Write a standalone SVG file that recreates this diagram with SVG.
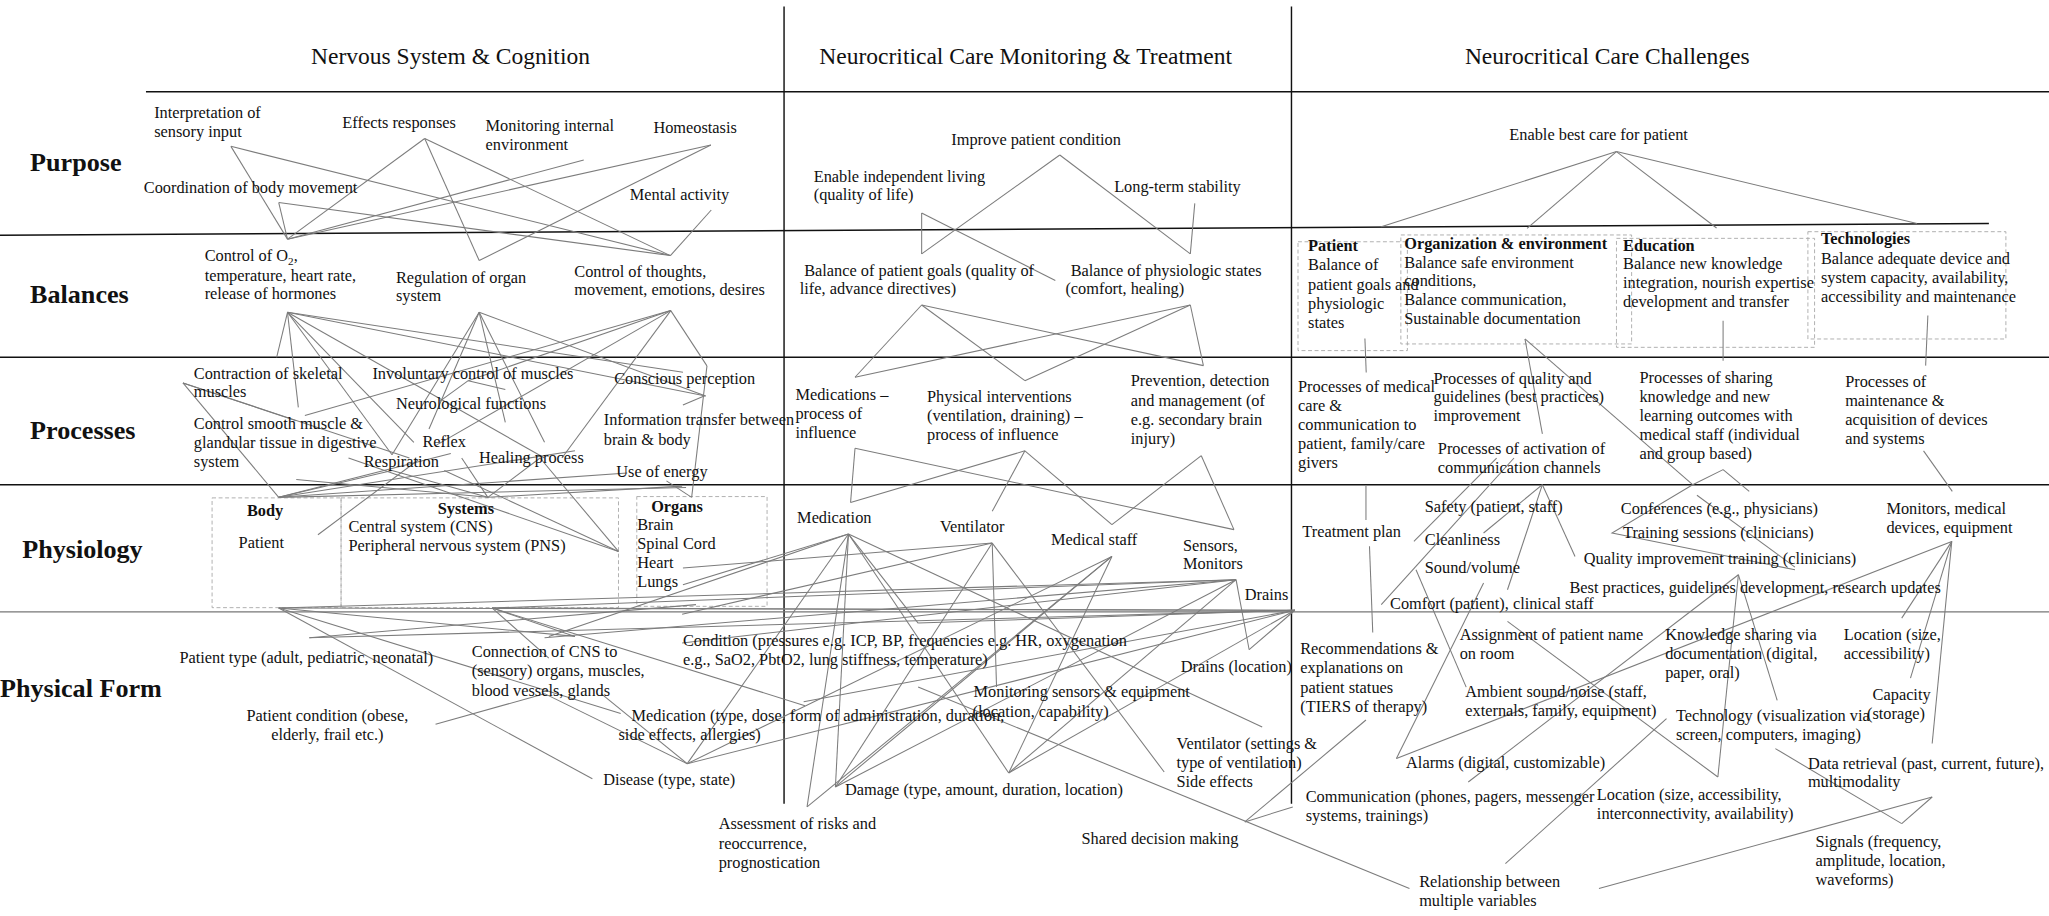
<svg xmlns="http://www.w3.org/2000/svg" width="2049" height="916" viewBox="0 0 2049 916">
<style>
text{font-family:"Liberation Serif","Times New Roman",serif;fill:#111}
.t{font-size:12.5px}
.b{font-size:12.5px;font-weight:bold}
.h{font-size:18px}
.r{font-size:20px;font-weight:bold}
.c line,.c polyline{stroke:#7c7c7c;stroke-width:0.8;fill:none}
.s{stroke:#111;stroke-width:1.1;fill:none}
.sg{stroke:#777;stroke-width:1;fill:none}
.d{stroke:#aaa;stroke-width:0.7;stroke-dasharray:3 2;fill:none}
</style>
<rect width="2049" height="916" fill="#fff"/>
<g transform="scale(1.30676)">
<g id="grid">
<line class="s" x1="600" y1="5" x2="600" y2="615"/>
<line class="s" x1="988.3" y1="5" x2="988.3" y2="615"/>
<line class="s" x1="111.7" y1="70.2" x2="1568" y2="70.2"/>
<line class="s" x1="0" y1="180" x2="1522" y2="171"/>
<line class="s" x1="0" y1="273.4" x2="1568" y2="273.4"/>
<line class="s" x1="0" y1="370.9" x2="1568" y2="370.9"/>
<line class="sg" x1="0" y1="468.2" x2="1568" y2="468.2"/>
</g>
<g id="headers">
<text class="h" x="238" y="49">Nervous System &amp; Cognition</text>
<text class="h" x="627" y="49">Neurocritical Care Monitoring &amp; Treatment</text>
<text class="h" x="1121" y="49">Neurocritical Care Challenges</text>
<text class="r" x="23" y="131">Purpose</text>
<text class="r" x="23" y="232">Balances</text>
<text class="r" x="23" y="336">Processes</text>
<text class="r" x="17" y="427">Physiology</text>
<text class="r" x="0" y="533">Physical Form</text>
</g>
<g id="boxes">
<rect class="d" x="162.3" y="381" width="98.7" height="84"/>
<rect class="d" x="261" y="381" width="212.3" height="84"/>
<rect class="d" x="487.3" y="380" width="99.7" height="84"/>
<rect class="d" x="993.3" y="185" width="83.7" height="83.3"/>
<rect class="d" x="1072" y="179.8" width="176.6" height="83.4"/>
<rect class="d" x="1237" y="182.4" width="151.6" height="83.4"/>
<rect class="d" x="1383.5" y="177.3" width="151.5" height="82.1"/>
</g>
<g id="connectors" class="c">
<!-- col1 purpose->balances -->
<line x1="176.7" y1="112" x2="220" y2="183"/>
<line x1="176.7" y1="112" x2="513" y2="195.6"/>
<line x1="325" y1="106" x2="220" y2="183"/>
<line x1="325" y1="106" x2="366.7" y2="199.4"/>
<line x1="325" y1="106" x2="513" y2="195.6"/>
<line x1="446.7" y1="122.4" x2="220" y2="183"/>
<line x1="544" y1="111" x2="220" y2="183"/>
<line x1="544" y1="111" x2="366.7" y2="199.4"/>
<line x1="213.3" y1="155" x2="220" y2="183"/>
<line x1="213.3" y1="155" x2="513" y2="195.6"/>
<line x1="544.3" y1="160.7" x2="513" y2="195.6"/>
<!-- col1 balances->processes -->
<line x1="220" y1="239" x2="211.7" y2="273.4"/>
<line x1="220" y1="239" x2="228.3" y2="311.7"/>
<line x1="220" y1="239" x2="316.7" y2="338.5"/>
<line x1="220" y1="239" x2="416.7" y2="350.5"/>
<line x1="220" y1="239" x2="522.7" y2="284.9"/>
<line x1="220" y1="239" x2="540" y2="303"/>
<line x1="220" y1="239" x2="300" y2="348"/>
<line x1="366.7" y1="239" x2="328.3" y2="328.3"/>
<line x1="366.7" y1="239" x2="386.7" y2="323.2"/>
<line x1="366.7" y1="239" x2="416.7" y2="338.5"/>
<line x1="366.7" y1="239" x2="540" y2="303"/>
<line x1="366.7" y1="239" x2="300" y2="348"/>
<line x1="513.3" y1="237.7" x2="333.3" y2="341"/>
<line x1="513.3" y1="237.7" x2="541" y2="280"/>
<line x1="513.3" y1="237.7" x2="430" y2="350.5"/>
<line x1="513.3" y1="237.7" x2="233.3" y2="318"/>
<line x1="513.3" y1="237.7" x2="358.3" y2="291.3"/>
<line x1="140" y1="293" x2="313.3" y2="350.5"/>
<line x1="140" y1="293" x2="226.7" y2="322"/>
<line x1="358.3" y1="291.3" x2="336.7" y2="307"/>
<line x1="358.3" y1="291.3" x2="386.7" y2="298"/>
<line x1="539.3" y1="302.8" x2="522.6" y2="310"/>
<!-- col1 processes->physiology -->
<line x1="140" y1="293" x2="213.3" y2="380.6"/>
<line x1="213.3" y1="380.6" x2="345" y2="347"/>
<line x1="213.3" y1="380.6" x2="440" y2="345"/>
<line x1="213.3" y1="380.6" x2="480" y2="362"/>
<line x1="213.3" y1="380.6" x2="525" y2="373"/>
<line x1="213.3" y1="380.6" x2="300" y2="360"/>
<line x1="373.3" y1="380.6" x2="226.7" y2="367"/>
<line x1="373.3" y1="380.6" x2="353.3" y2="350.5"/>
<line x1="373.3" y1="380.6" x2="413.3" y2="350.5"/>
<line x1="373.3" y1="380.6" x2="522" y2="372"/>
<line x1="373.3" y1="380.6" x2="300" y2="360"/>
<line x1="473.3" y1="422" x2="266.7" y2="350.5"/>
<line x1="473.3" y1="422" x2="340" y2="360"/>
<line x1="473.3" y1="422" x2="413.3" y2="350.5"/>
<line x1="243.3" y1="409.2" x2="320" y2="352"/>
<line x1="541" y1="280" x2="529.3" y2="380.6"/>
<line x1="529.3" y1="380.6" x2="510" y2="368"/>
<!-- col1/2 physiology->physical form -->
<line x1="213.3" y1="465.3" x2="453.3" y2="596"/>
<line x1="213.3" y1="465.3" x2="440" y2="487"/>
<line x1="213.3" y1="465.3" x2="475" y2="546"/>
<line x1="213.3" y1="465.3" x2="945.9" y2="443.6"/>
<line x1="213.3" y1="465.3" x2="990.9" y2="467"/>
<line x1="376.7" y1="465.3" x2="420" y2="503.6"/>
<line x1="376.7" y1="465.3" x2="440" y2="487"/>
<line x1="376.7" y1="465.3" x2="616" y2="540"/>
<line x1="376.7" y1="465.3" x2="945.9" y2="443.6"/>
<line x1="376.7" y1="465.3" x2="990.9" y2="467"/>
<line x1="236.7" y1="488" x2="532.6" y2="462.7"/>
<line x1="236.7" y1="488" x2="990.9" y2="467"/>
<line x1="333.3" y1="554.3" x2="416.7" y2="530.8"/>
<line x1="416.7" y1="530.8" x2="525.9" y2="584.4"/>
<line x1="460" y1="530.8" x2="525.9" y2="584.4"/>
<line x1="649.3" y1="408.7" x2="617.6" y2="617.5"/>
<line x1="649.3" y1="408.7" x2="639.3" y2="602.2"/>
<line x1="649.3" y1="408.7" x2="525.9" y2="584.4"/>
<line x1="649.3" y1="408.7" x2="702.6" y2="476.8"/>
<line x1="649.3" y1="408.7" x2="771.9" y2="591.5"/>
<line x1="649.3" y1="408.7" x2="420" y2="487"/>
<line x1="649.3" y1="408.7" x2="965.9" y2="556.3"/>
<line x1="649.3" y1="408.7" x2="522.6" y2="447.4"/>
<line x1="759.3" y1="415.6" x2="762.6" y2="525.8"/>
<line x1="759.3" y1="415.6" x2="890.9" y2="590.8"/>
<line x1="759.3" y1="415.6" x2="639.3" y2="602.2"/>
<line x1="759.3" y1="415.6" x2="522" y2="470"/>
<line x1="759.3" y1="415.6" x2="522.6" y2="434.7"/>
<line x1="850.9" y1="425.8" x2="525.9" y2="584.4"/>
<line x1="850.9" y1="425.8" x2="617.6" y2="617.5"/>
<line x1="850.9" y1="425.8" x2="771.9" y2="591.5"/>
<line x1="850.9" y1="425.8" x2="639.3" y2="602.2"/>
<line x1="945.9" y1="443.6" x2="522" y2="492"/>
<line x1="945.9" y1="443.6" x2="771.9" y2="591.5"/>
<line x1="945.9" y1="443.6" x2="955.9" y2="497.2"/>
<line x1="945.9" y1="443.6" x2="639.3" y2="602.2"/>
<line x1="945.9" y1="443.6" x2="416.7" y2="488"/>
<line x1="990.9" y1="467" x2="955.9" y2="497.2"/>
<line x1="990.9" y1="467" x2="702.6" y2="476.8"/>
<line x1="990.9" y1="467" x2="525.9" y2="584.4"/>
<line x1="990.9" y1="467" x2="771.9" y2="591.5"/>
<line x1="990.9" y1="467" x2="615" y2="537"/>
<line x1="702.6" y1="525.7" x2="1078.6" y2="680"/>
<!-- col2 purpose->balances -->
<line x1="811" y1="118.6" x2="705.3" y2="194.3"/>
<line x1="811" y1="118.6" x2="910.9" y2="194.3"/>
<line x1="705.3" y1="163" x2="705.3" y2="194.3"/>
<line x1="705.3" y1="163" x2="807.6" y2="214.7"/>
<line x1="914.3" y1="155.6" x2="910.9" y2="194.3"/>
<!-- col2 balances->processes -->
<line x1="705.3" y1="233.4" x2="654.3" y2="288.7"/>
<line x1="705.3" y1="233.4" x2="784.3" y2="291.3"/>
<line x1="705.3" y1="233.4" x2="920.9" y2="279.8"/>
<line x1="910.9" y1="233.4" x2="654.3" y2="288.7"/>
<line x1="910.9" y1="233.4" x2="784.3" y2="291.3"/>
<line x1="910.9" y1="233.4" x2="920.9" y2="279.8"/>
<!-- col2 processes->physiology -->
<line x1="654.3" y1="343" x2="650.9" y2="384.5"/>
<line x1="784.3" y1="345" x2="650.9" y2="384.5"/>
<line x1="784.3" y1="345" x2="759.3" y2="391.3"/>
<line x1="784.3" y1="345" x2="850.9" y2="401.5"/>
<line x1="919.3" y1="348.7" x2="850.9" y2="401.5"/>
<line x1="919.3" y1="348.7" x2="944.3" y2="405.3"/>
<line x1="654.3" y1="343" x2="944.3" y2="405.3"/>
<!-- col3 purpose->balances -->
<line x1="1237" y1="116" x2="1057" y2="173.5"/>
<line x1="1237" y1="116" x2="1168.6" y2="174.7"/>
<line x1="1237" y1="116" x2="1313.6" y2="174.5"/>
<line x1="1237" y1="116" x2="1467" y2="171"/>
<!-- col3 balances->processes -->
<line x1="1044.5" y1="259" x2="1045.5" y2="285"/>
<line x1="1167" y1="259.4" x2="1180.3" y2="332"/>
<line x1="1167" y1="259.4" x2="1295.3" y2="370.9"/>
<line x1="1318.6" y1="245.4" x2="1318.6" y2="276"/>
<line x1="1475.3" y1="241.5" x2="1473.6" y2="279.8"/>
<!-- col3 processes->physiology -->
<line x1="1045.3" y1="372" x2="1045.3" y2="398"/>
<line x1="1048" y1="418" x2="1050.5" y2="484"/>
<line x1="1145.3" y1="350.5" x2="1082" y2="414.3"/>
<line x1="1158.6" y1="350.5" x2="1057" y2="462.7"/>
<line x1="1180.3" y1="370.9" x2="1135.3" y2="407.9"/>
<line x1="1180.3" y1="370.9" x2="1153.6" y2="451.3"/>
<line x1="1180.3" y1="370.9" x2="1205.3" y2="425.8"/>
<line x1="1318.6" y1="359.4" x2="1338.6" y2="376"/>
<polyline points="1318.6,359.4 1295.3,370.9 1233.6,407.9 1373.6,436"/>
<line x1="1298.6" y1="379" x2="1373.6" y2="434"/>
<line x1="1472" y1="345" x2="1494" y2="376"/>
<!-- col3 physiology->physical -->
<line x1="1493.6" y1="414.3" x2="1455.3" y2="473"/>
<line x1="1493.6" y1="414.3" x2="1462" y2="519"/>
<line x1="1493.6" y1="414.3" x2="1478.6" y2="569"/>
<line x1="1493.6" y1="414.3" x2="1068.6" y2="580.5"/>
<line x1="1330.3" y1="439.8" x2="1123.6" y2="598.4"/>
<line x1="1330.3" y1="439.8" x2="1360" y2="536"/>
<line x1="1330.3" y1="439.8" x2="1314.6" y2="594.6"/>
<line x1="1153.6" y1="475.5" x2="1314.6" y2="594.6"/>
<line x1="1083.6" y1="436" x2="1122" y2="525.8"/>
<line x1="1135.3" y1="446.2" x2="1068.6" y2="580.5"/>
<line x1="1358.6" y1="572.9" x2="1455.3" y2="630.3"/>
<line x1="1455.3" y1="630.3" x2="1478.6" y2="609.9"/>
<line x1="1223.6" y1="680" x2="1478.6" y2="609.9"/>
<line x1="1152" y1="660.9" x2="1275.3" y2="550"/>
<line x1="1045.3" y1="551" x2="952.6" y2="629"/>
<line x1="989.3" y1="617.5" x2="952.6" y2="629"/>
</g>
<g id="n-purpose">
<text class="t" x="118" y="90.6">Interpretation of</text>
<text class="t" x="118" y="104.6">sensory input</text>
<text class="t" x="262" y="98">Effects responses</text>
<text class="t" x="371.6" y="100">Monitoring internal</text>
<text class="t" x="371.6" y="114.8">environment</text>
<text class="t" x="500" y="102">Homeostasis</text>
<text class="t" x="110" y="148">Coordination of body movement</text>
<text class="t" x="482" y="153">Mental activity</text>
<text class="t" x="728" y="111">Improve patient condition</text>
<text class="t" x="622.7" y="139">Enable independent living</text>
<text class="t" x="622.7" y="153">(quality of life)</text>
<text class="t" x="852.6" y="146.7">Long-term stability</text>
<text class="t" x="1155" y="107">Enable best care for patient</text>
</g>
<g id="n-balances">
<text class="t" x="156.6" y="200">Control of O<tspan font-size="8.5" dy="2.5">2</tspan><tspan dy="-2.5">,</tspan></text>
<text class="t" x="156.6" y="215">temperature, heart rate,</text>
<text class="t" x="156.6" y="229">release of hormones</text>
<text class="t" x="303" y="216.5">Regulation of organ</text>
<text class="t" x="303" y="230.5">system</text>
<text class="t" x="439.5" y="212">Control of thoughts,</text>
<text class="t" x="439.5" y="226">movement, emotions, desires</text>
<text class="t" x="615.4" y="211">Balance of patient goals (quality of</text>
<text class="t" x="612" y="225">life, advance directives)</text>
<text class="t" x="819.3" y="211">Balance of physiologic states</text>
<text class="t" x="815.3" y="225">(comfort, healing)</text>
<text class="b" x="1001" y="192">Patient</text>
<text class="t" x="1001" y="207">Balance of</text>
<text class="t" x="1001" y="222">patient goals and</text>
<text class="t" x="1001" y="236.5">physiologic</text>
<text class="t" x="1001" y="251">states</text>
<text class="b" x="1074.6" y="190.6">Organization &amp; environment</text>
<text class="t" x="1074.6" y="204.8">Balance safe environment</text>
<text class="t" x="1074.6" y="219">conditions,</text>
<text class="t" x="1074.6" y="233.5">Balance communication,</text>
<text class="t" x="1074.6" y="248">Sustainable documentation</text>
<text class="b" x="1242" y="191.8">Education</text>
<text class="t" x="1242" y="206">Balance new knowledge</text>
<text class="t" x="1242" y="220.6">integration, nourish expertise</text>
<text class="t" x="1242" y="235.2">development and transfer</text>
<text class="b" x="1393.5" y="186.7">Technologies</text>
<text class="t" x="1393.5" y="202">Balance adequate device and</text>
<text class="t" x="1393.5" y="216.5">system capacity, availability,</text>
<text class="t" x="1393.5" y="231">accessibility and maintenance</text>
</g>
<g id="n-processes">
<text class="t" x="148.3" y="290">Contraction of skeletal</text>
<text class="t" x="148.3" y="304">muscles</text>
<text class="t" x="285" y="290">Involuntary control of muscles</text>
<text class="t" x="303" y="313">Neurological functions</text>
<text class="t" x="148.3" y="328">Control smooth muscle &amp;</text>
<text class="t" x="148.3" y="342.5">glandular tissue in digestive</text>
<text class="t" x="148.3" y="357">system</text>
<text class="t" x="323.3" y="342.3">Reflex</text>
<text class="t" x="470" y="294">Conscious perception</text>
<text class="t" x="462" y="325.5">Information transfer between</text>
<text class="t" x="462" y="340.5">brain &amp; body</text>
<text class="t" x="278.3" y="357">Respiration</text>
<text class="t" x="366.6" y="354">Healing process</text>
<text class="t" x="471.6" y="365">Use of energy</text>
<text class="t" x="608.7" y="306">Medications –</text>
<text class="t" x="608.7" y="320.5">process of</text>
<text class="t" x="608.7" y="335">influence</text>
<text class="t" x="709.4" y="308">Physical interventions</text>
<text class="t" x="709.4" y="322.5">(ventilation, draining) –</text>
<text class="t" x="709.4" y="337">process of influence</text>
<text class="t" x="865.3" y="295.5">Prevention, detection</text>
<text class="t" x="865.3" y="310.5">and management (of</text>
<text class="t" x="865.3" y="325.5">e.g. secondary brain</text>
<text class="t" x="865.3" y="340">injury)</text>
<text class="t" x="993.3" y="300">Processes of medical</text>
<text class="t" x="993.3" y="314.5">care &amp;</text>
<text class="t" x="993.3" y="329">communication to</text>
<text class="t" x="993.3" y="343.5">patient, family/care</text>
<text class="t" x="993.3" y="358">givers</text>
<text class="t" x="1097" y="293.5">Processes of quality and</text>
<text class="t" x="1097" y="308">guidelines (best practices)</text>
<text class="t" x="1097" y="322.5">improvement</text>
<text class="t" x="1100.3" y="347.5">Processes of activation of</text>
<text class="t" x="1100.3" y="362">communication channels</text>
<text class="t" x="1254.6" y="293">Processes of sharing</text>
<text class="t" x="1254.6" y="307.5">knowledge and new</text>
<text class="t" x="1254.6" y="322">learning outcomes with</text>
<text class="t" x="1254.6" y="336.5">medical staff (individual</text>
<text class="t" x="1254.6" y="351">and group based)</text>
<text class="t" x="1412" y="296">Processes of</text>
<text class="t" x="1412" y="310.5">maintenance &amp;</text>
<text class="t" x="1412" y="325">acquisition of devices</text>
<text class="t" x="1412" y="339.5">and systems</text>
</g>
<g id="n-physiology">
<text class="b" x="189" y="394.5">Body</text>
<text class="t" x="182.6" y="419.4">Patient</text>
<text class="b" x="335" y="393">Systems</text>
<text class="t" x="266.6" y="407">Central system (CNS)</text>
<text class="t" x="266.6" y="421.4">Peripheral nervous system (PNS)</text>
<text class="b" x="498.3" y="391.5">Organs</text>
<text class="t" x="487.6" y="405.5">Brain</text>
<text class="t" x="487.6" y="420">Spinal Cord</text>
<text class="t" x="487.6" y="434.5">Heart</text>
<text class="t" x="487.6" y="449">Lungs</text>
<text class="t" x="610" y="400.5">Medication</text>
<text class="t" x="719.3" y="407.3">Ventilator</text>
<text class="t" x="804.3" y="417.3">Medical staff</text>
<text class="t" x="905.3" y="421.4">Sensors,</text>
<text class="t" x="905.3" y="435.3">Monitors</text>
<text class="t" x="952.6" y="459">Drains</text>
<text class="t" x="996.6" y="411">Treatment plan</text>
<text class="t" x="1090.3" y="391.5">Safety (patient, staff)</text>
<text class="t" x="1090.3" y="417">Cleanliness</text>
<text class="t" x="1090.3" y="438.5">Sound/volume</text>
<text class="t" x="1063.7" y="466">Comfort (patient), clinical staff</text>
<text class="t" x="1240.3" y="393">Conferences (e.g., physicians)</text>
<text class="t" x="1242" y="412">Training sessions (clinicians)</text>
<text class="t" x="1212" y="431.5">Quality improvement training (clinicians)</text>
<text class="t" x="1201" y="453.5">Best practices, guidelines development, research updates</text>
<text class="t" x="1443.6" y="393">Monitors, medical</text>
<text class="t" x="1443.6" y="407.5">devices, equipment</text>
</g>
<g id="n-physical">
<text class="t" x="137.3" y="507.5">Patient type (adult, pediatric, neonatal)</text>
<text class="t" x="361" y="502.5">Connection of CNS to</text>
<text class="t" x="361" y="517.3">(sensory) organs, muscles,</text>
<text class="t" x="361" y="532.3">blood vessels, glands</text>
<text class="t" x="250.5" y="552" text-anchor="middle">Patient condition (obese,</text>
<text class="t" x="250.5" y="566.5" text-anchor="middle">elderly, frail etc.)</text>
<text class="t" x="461.6" y="601">Disease (type, state)</text>
<text class="t" x="522.6" y="494.5">Condition (pressures e.g. ICP, BP, frequencies e.g. HR, oxygenation</text>
<text class="t" x="522.6" y="509">e.g., SaO2, PbtO2, lung stiffness, temperature)</text>
<text class="t" x="483.3" y="552">Medication (type, dose, form of administration, duration,</text>
<text class="t" x="473.3" y="566.5">side effects, allergies)</text>
<text class="t" x="646.6" y="608.5">Damage (type, amount, duration, location)</text>
<text class="t" x="550" y="634.5">Assessment of risks and</text>
<text class="t" x="550" y="649.5">reoccurrence,</text>
<text class="t" x="550" y="664">prognostication</text>
<text class="t" x="745" y="533.5">Monitoring sensors &amp; equipment</text>
<text class="t" x="744.3" y="548.5">(location, capability)</text>
<text class="t" x="903.6" y="514">Drains (location)</text>
<text class="t" x="900.3" y="573.5">Ventilator (settings &amp;</text>
<text class="t" x="900.3" y="588">type of ventilation)</text>
<text class="t" x="900.3" y="602.5">Side effects</text>
<text class="t" x="827.6" y="646">Shared decision making</text>
<text class="t" x="995" y="500.5">Recommendations &amp;</text>
<text class="t" x="995" y="515">explanations on</text>
<text class="t" x="995" y="530">patient statues</text>
<text class="t" x="995" y="545">(TIERS of therapy)</text>
<text class="t" x="1117" y="490">Assignment of patient name</text>
<text class="t" x="1117" y="504">on room</text>
<text class="t" x="1121.3" y="533.5">Ambient sound/noise (staff,</text>
<text class="t" x="1121.3" y="548">externals, family, equipment)</text>
<text class="t" x="1076" y="587.5">Alarms (digital, customizable)</text>
<text class="t" x="999.2" y="614">Communication (phones, pagers, messenger</text>
<text class="t" x="999.2" y="628">systems, trainings)</text>
<text class="t" x="1274.3" y="490">Knowledge sharing via</text>
<text class="t" x="1274.3" y="504.5">documentation (digital,</text>
<text class="t" x="1274.3" y="519">paper, oral)</text>
<text class="t" x="1282.5" y="552">Technology (visualization via</text>
<text class="t" x="1282.5" y="566.5">screen, computers, imaging)</text>
<text class="t" x="1222" y="612.5">Location (size, accessibility,</text>
<text class="t" x="1222" y="627">interconnectivity, availability)</text>
<text class="t" x="1411" y="490">Location (size,</text>
<text class="t" x="1411" y="504">accessibility)</text>
<text class="t" x="1433" y="536">Capacity</text>
<text class="t" x="1428.7" y="550">(storage)</text>
<text class="t" x="1383.5" y="588.5">Data retrieval (past, current, future),</text>
<text class="t" x="1383.5" y="602.5">multimodality</text>
<text class="t" x="1389.3" y="648.5">Signals (frequency,</text>
<text class="t" x="1389.3" y="663">amplitude, location,</text>
<text class="t" x="1389.3" y="677">waveforms)</text>
<text class="t" x="1086" y="678.5">Relationship between</text>
<text class="t" x="1086" y="693">multiple variables</text>
</g>
</g>
</svg>
